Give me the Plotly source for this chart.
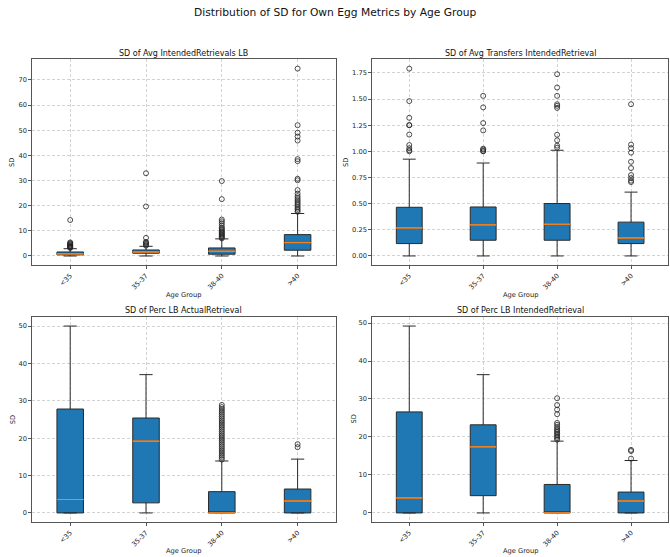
import plotly.graph_objects as go

W, H = 670, 557

categories = ["<35", "35-37", "38-40", ">40"]

# Panel 1: SD of Avg IntendedRetrievals LB
p1_q1 = [0.45, 1.1, 0.7, 2.3]
p1_median = [0.85, 1.6, 1.9, 5.3]
p1_q3 = [1.6, 2.4, 3.2, 8.5]
p1_low = [0, 0, 0, 0]
p1_high = [2.9, 3.85, 6.8, 16.9]
p1_out_lt35 = [3.2, 3.4, 3.6, 3.8, 4.0, 4.2, 4.5, 4.8, 5.1, 5.4, 14.3]
p1_out_3537 = [4.1, 4.5, 4.9, 5.3, 5.6, 7.2, 19.7, 32.9]
p1_out_3840 = [7.0, 7.4, 7.8, 8.2, 8.6, 9.0, 9.4, 9.8, 10.3, 10.8, 11.3, 12.1, 13.0, 13.8, 14.5, 22.6, 29.8]
p1_out_gt40 = [17.6, 18.2, 18.8, 19.5, 20.2, 20.8, 21.5, 22.2, 23.0, 23.8, 24.8, 26.2, 30.1, 30.7,
               37.7, 38.5, 45.9, 47.5, 49.0, 52.0, 74.5]

# Panel 2: SD of Avg Transfers IntendedRetrieval
p2_q1 = [0.118, 0.150, 0.150, 0.118]
p2_median = [0.268, 0.297, 0.303, 0.172]
p2_q3 = [0.465, 0.468, 0.501, 0.323]
p2_low = [0, 0, 0, 0]
p2_high = [0.925, 0.888, 1.010, 0.610]
p2_out_lt35 = [1.00, 1.01, 1.03, 1.06, 1.16, 1.25, 1.25, 1.32, 1.48, 1.79]
p2_out_3537 = [1.00, 1.003, 1.016, 1.025, 1.20, 1.27, 1.42, 1.53]
p2_out_3840 = [1.035, 1.054, 1.105, 1.158, 1.415, 1.435, 1.45, 1.53, 1.61, 1.737]
p2_out_gt40 = [0.706, 0.719, 0.744, 0.773, 0.84, 0.90, 0.987, 1.03, 1.064, 1.45]

# Panel 3: SD of Perc LB ActualRetrieval
p3_q1 = [0, 2.7, 0, 0]
p3_median = [3.6, 19.2, 0, 3.2]
p3_q3 = [27.8, 25.4, 5.7, 6.4]
p3_low = [0, 0, 0, 0]
p3_high = [50.0, 37.0, 13.9, 14.4]
p3_out_lt35 = []
p3_out_3537 = []
p3_out_3840 = [14.3, 14.8, 15.3, 15.8, 16.3, 16.8, 17.3, 17.8, 18.3, 18.8, 19.3, 19.8, 20.3, 20.8,
               21.3, 21.8, 22.3, 22.8, 23.3, 23.8, 24.3, 24.8, 25.3, 25.8, 26.3, 26.8, 27.3, 27.8,
               28.3, 28.9]
p3_out_gt40 = [17.6, 18.4]

# Panel 4: SD of Perc LB IntendedRetrieval
p4_q1 = [0, 4.55, 0, 0]
p4_median = [3.95, 17.4, 0, 3.15]
p4_q3 = [26.6, 23.2, 7.5, 5.5]
p4_low = [0, 0, 0, 0]
p4_high = [49.2, 36.4, 18.9, 13.8]
p4_out_lt35 = []
p4_out_3537 = []
p4_out_3840 = [19.3, 19.7, 20.1, 20.5, 20.9, 21.3, 21.7, 22.1, 22.6, 23.2, 23.7, 26.0, 27.2, 28.4, 30.2]
p4_out_gt40 = [14.3, 16.3, 16.6]

titles = ["SD of Avg IntendedRetrievals LB", "SD of Avg Transfers IntendedRetrieval",
          "SD of Perc LB ActualRetrieval", "SD of Perc LB IntendedRetrieval"]
suptitle = "Distribution of SD for Own Egg Metrics by Age Group"
x_title = "Age Group"
y_title = "SD"

panels = [
    (p1_q1, p1_median, p1_q3, p1_low, p1_high, [p1_out_lt35, p1_out_3537, p1_out_3840, p1_out_gt40]),
    (p2_q1, p2_median, p2_q3, p2_low, p2_high, [p2_out_lt35, p2_out_3537, p2_out_3840, p2_out_gt40]),
    (p3_q1, p3_median, p3_q3, p3_low, p3_high, [p3_out_lt35, p3_out_3537, p3_out_3840, p3_out_gt40]),
    (p4_q1, p4_median, p4_q3, p4_low, p4_high, [p4_out_lt35, p4_out_3537, p4_out_3840, p4_out_gt40]),
]

# axis ranges (matplotlib-style margins)
yranges = [[-3.7, 78.2], [-0.0895, 1.8795], [-2.5, 52.5], [-2.46, 51.66]]
ydticks = [10, 0.25, 10, 10]
yformats = ["", ".2f", "", ""]

# pixel boxes of axes: (left, right, top, bottom)
boxes = [(32.3, 335.5, 59.3, 265.3), (372.3, 668.0, 59.3, 265.3),
         (32.3, 335.5, 316.7, 522.3), (372.3, 668.0, 316.7, 522.3)]
# pixel positions of axis titles: (y-title x, x-title y)
ytitle_x = [12.7, 346.7, 12.7, 353.0]
xtitle_y = [295.0, 295.0, 551.0, 551.0]

FONT = "DejaVu Sans"
BOX_FILL = "#1f77b4"
EDGE = "#2a2a2a"
MED = "#f5821f"
TXT = "#222222"

fig = go.Figure()
layout = dict(
    width=W, height=H, margin=dict(l=0, r=0, t=0, b=0),
    paper_bgcolor="white", plot_bgcolor="white",
    showlegend=False, boxgap=0.5, boxmode="overlay",
    font=dict(family=FONT, color=TXT, size=7),
)
annotations = []

for i, (q1, med, q3, lo, hi, outs) in enumerate(panels):
    ax = "" if i == 0 else str(i + 1)
    xref, yref = "x" + ax, "y" + ax
    fig.add_trace(go.Box(
        x=categories, q1=q1, median=med, q3=q3, lowerfence=lo, upperfence=hi,
        fillcolor=BOX_FILL, line=dict(color=EDGE, width=1), whiskerwidth=0.5,
        boxpoints=False, xaxis=xref, yaxis=yref, hoverinfo="skip",
    ))
    fig.add_trace(go.Box(
        x=categories, q1=med, median=med, q3=med, lowerfence=med, upperfence=med,
        fillcolor="rgba(0,0,0,0)", line=dict(color=MED, width=1), whiskerwidth=0,
        boxpoints=False, xaxis=xref, yaxis=yref, hoverinfo="skip",
    ))
    for cat, vals in zip(categories, outs):
        if not vals:
            continue
        fig.add_trace(go.Scatter(
            x=[cat] * len(vals), y=vals, mode="markers",
            marker=dict(symbol="circle-open", size=5, color="#222", line=dict(width=0.8)),
            xaxis=xref, yaxis=yref, hoverinfo="skip",
        ))
    l, r, t, b = boxes[i]
    xd = [l / W, r / W]
    yd = [1 - b / H, 1 - t / H]
    common = dict(showline=True, mirror=True, linecolor="#555", linewidth=1,
                  ticks="outside", ticklen=3, tickwidth=0.8, tickcolor="#555",
                  showgrid=True, gridcolor="#d3d3d3", gridwidth=0.6, griddash="3px,2px",
                  zeroline=False, tickfont=dict(family=FONT, size=6.7, color=TXT))
    layout["xaxis" + ax] = dict(
        common, domain=xd, anchor=yref, type="category", categoryorder="array",
        categoryarray=categories, range=[-0.5, 3.5], tickangle=-45,
    )
    layout["yaxis" + ax] = dict(
        common, domain=yd, anchor=xref, range=yranges[i], dtick=ydticks[i], tick0=0,
        tickformat=yformats[i],
    )
    annotations.append(dict(
        text=titles[i], x=(l + r) / 2 / W, y=1 - (t - 6) / H, xref="paper", yref="paper",
        xanchor="center", yanchor="middle", showarrow=False,
        font=dict(family=FONT, size=8, color="#111"),
    ))
    annotations.append(dict(
        text=x_title, x=(l + r) / 2 / W, y=1 - xtitle_y[i] / H, xref="paper", yref="paper",
        xanchor="center", yanchor="middle", showarrow=False,
        font=dict(family=FONT, size=6.7, color=TXT),
    ))
    annotations.append(dict(
        text=y_title, x=ytitle_x[i] / W, y=1 - (t + b) / 2 / H, xref="paper", yref="paper",
        xanchor="center", yanchor="middle", showarrow=False, textangle=-90,
        font=dict(family=FONT, size=6.7, color=TXT),
    ))

annotations.append(dict(
    text=suptitle, x=0.5, y=1 - 12 / H, xref="paper", yref="paper",
    xanchor="center", yanchor="middle", showarrow=False,
    font=dict(family=FONT, size=10.7, color="#111"),
))
layout["annotations"] = annotations
fig.update_layout(**layout)
fig.write_html("out.html", config={"displayModeBar": False},
               post_script="document.body.style.margin='0';document.body.style.overflow='hidden';")
